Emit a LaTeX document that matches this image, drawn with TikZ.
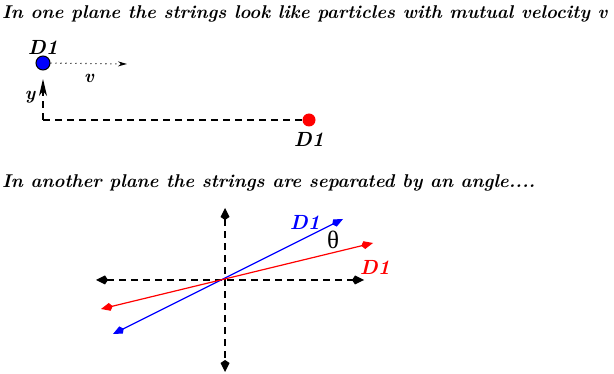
\documentclass[tikz,border=0pt]{standalone}
\usepackage{fontspec}
\newfontfamily\greekfont{Liberation Serif}
\usetikzlibrary{positioning,arrows.meta}

\tikzset{
  lbl/.style={font=\fontsize{18.5}{18.5}\selectfont\bfseries\itshape,inner sep=1pt},
  dlbl/.style={font=\fontsize{20.5}{20.5}\selectfont\bfseries\itshape,inner sep=1pt},
  dotnode/.style={circle,inner sep=0pt,minimum size=#1},
  dashline/.style={dash pattern=on 7pt off 5pt,line width=1.3pt},
  axis/.style={dashline,{Kite[length=12pt,width=9pt,inset=3pt]}-{Kite[length=12pt,width=9pt,inset=3pt]}},
  string/.style={line width=1.2pt,{Kite[length=12pt,width=8pt,inset=3pt]}-{Kite[length=12pt,width=8pt,inset=3pt]}}
}

\begin{document}
\begin{tikzpicture}[x=1pt,y=-1pt]
\useasboundingbox (0,0) rectangle (614,374);
% first plane
\node[lbl,anchor=west] (t1) at (1,14) {In one plane the strings look like particles with mutual velocity v};
\node[dotnode=14pt,draw=black,line width=1pt,fill=blue] (b) at (43,63) {};
\node[dlbl] (bl) [above=0pt of b] {D1};
\coordinate (vend) at (127,64);
\draw[dash pattern=on 1pt off 4pt,line width=1.1pt,-{Stealth[length=9pt,width=5pt]}] (b) -- (vend);
\node[lbl] (v) at (89,78) {v};
\coordinate (corner) at (43,120);
\coordinate (ytip) at (43,79);
\draw[dashline,-{Stealth[length=17pt,width=8pt,inset=5pt]}] (corner) -- (ytip);
\node[lbl] (y) at (30,97) {y};
\node[dotnode=13pt,fill=red] (r) at (309,120) {};
\draw[dashline] (corner) -- (r);
\node[dlbl] (rl) [below=5pt of r] {D1};
% second plane
\node[lbl,anchor=west] (t2) at (1,183) {In another plane the strings are separated by an angle....};
\coordinate (o) at (225,280);
\coordinate (top) at (225,208);
\coordinate (bot) at (225,372);
\coordinate (lft) at (96,280);
\coordinate (rgt) at (364,280);
\draw[axis] (top) -- (bot);
\draw[axis] (lft) -- (rgt);
\coordinate (b1) at (113,334);
\coordinate (b2) at (343,219);
\coordinate (r1) at (101,309);
\coordinate (r2) at (373,243);
\draw[string,blue] (b1) -- (b2);
\draw[string,red] (r1) -- (r2);
\node[dlbl,text=blue] (bd) at (305,222) {D1};
\node[dlbl,text=red] (rd) at (375,267) {D1};
\node (th) at (333,240) {\fontsize{25}{25}\selectfont\greekfont θ};
\end{tikzpicture}
\end{document}
